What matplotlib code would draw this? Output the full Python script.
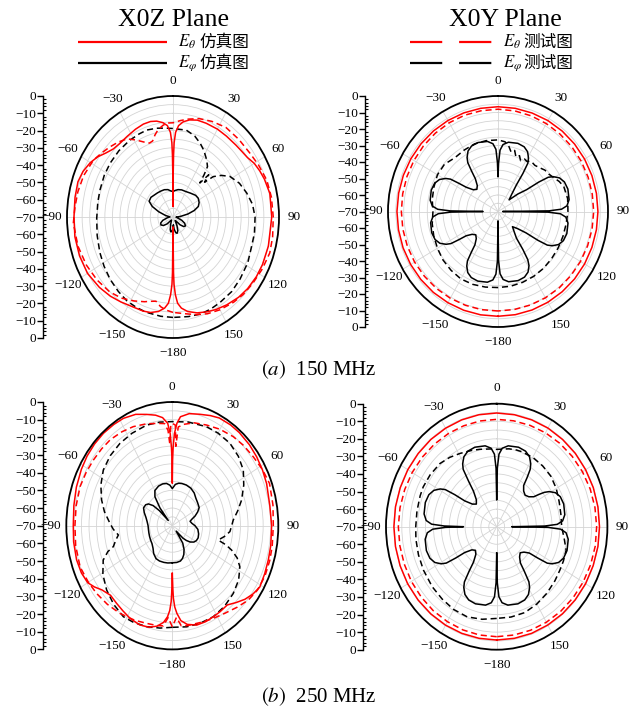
import numpy as np
import matplotlib
matplotlib.use("Agg")
import matplotlib.pyplot as plt
from matplotlib.ticker import MultipleLocator, FixedLocator

plt.rcParams['font.family'] = ['Liberation Serif', 'Noto Sans CJK SC']
plt.rcParams['mathtext.fontset'] = 'stix'

RED = '#ff0000'
W, H = 629, 714

# common angle grid for the near-circular traces (deg)
ang10 = np.arange(-180, 181, 10)
# sample offsets inside one 45 deg petal sector of the X0Y cross-pol pattern:
# sectors alternate between starting at a narrow null (0, 90, ...) and at a wide one (45, 135, ...)
off_narrow = np.array([0, 0.7, 2, 4.5, 9, 17, 23, 27.5, 31, 33, 34.5, 36, 40])
off_wide = np.array([0, 5, 9, 10.5, 12, 14, 17.5, 22, 28, 36, 40.5, 43, 44.3])
flower_ang = np.concatenate([n + (off_narrow if k % 2 == 0 else off_wide)
                             for k, n in enumerate(range(-180, 180, 45))] + [[180]])

# ---------------- X0Z plane, 150 MHz ----------------
xoz150_th_sim_ang = [-180, -179.4, -179, -178, -176.5, -174, -170, -165, -160, -152,
                     -145, -138, -130, -120, -110, -100, -90, -80, -72, -66,
                     -60, -55, -50, -45, -40, -33, -26, -20, -15, -11,
                     -7, -4, -2, -1, -0.6, -0.3, 0, 0.3, 0.6, 1,
                     2, 4, 7, 11, 16, 22, 30, 37, 45, 50,
                     55, 60, 65, 70, 78, 90, 105, 115, 122, 130,
                     137, 145, 152, 158, 164, 170, 174, 176.5, 178, 179,
                     179.4, 180]
xoz150_th_sim = [-64, -38, -31, -25, -20, -17, -14.5, -12.8, -12.1, -11.5,
                 -10, -8.3, -6.6, -4.8, -4.3, -4.2, -4.6, -4.3, -4, -5,
                 -7, -9.3, -12.3, -14.3, -14.8, -14.4, -13.5, -12.8, -12.8, -13.5,
                 -15, -17, -21, -27, -34, -45, -64, -45, -34, -27,
                 -21, -17, -14.5, -12.8, -11.7, -11.5, -11.3, -11.4, -11.2, -10.8,
                 -10, -8, -6.8, -5.8, -4.6, -4.8, -4.8, -4.8, -5, -5.6,
                 -6.5, -8, -9.4, -10.8, -12.3, -14.5, -17, -20, -25, -31,
                 -38, -64]

xoz150_th_meas_ang = [-180, -175, -171, -167, -163, -159, -152, -144, -136, -126,
                      -116, -105, -93, -85, -77, -68, -58, -52, -46, -40,
                      -34, -29, -24, -20, -17, -14, -11, -7, -4, 0,
                      5, 10, 17, 25, 34, 44, 54, 62, 71, 80,
                      90, 100, 108, 117, 126, 134, 141, 150, 158, 165,
                      172, 180]
xoz150_th_meas = [-14.8, -16, -17.5, -20, -19, -17.5, -15, -12, -9.8, -8,
                  -6.4, -5, -4.1, -5, -5.5, -6.3, -8, -10, -11.8, -13.5,
                  -15.5, -19, -22.5, -24.5, -24, -21, -18.5, -16.5, -15.5, -15.5,
                  -14, -12.5, -10.5, -9, -7.5, -7.5, -7.2, -6, -4.5, -4,
                  -3.8, -3.2, -2.8, -3.8, -4.8, -5.5, -6.5, -8, -9.6, -11.5,
                  -13.5, -14.8]

xoz150_ph_sim_ang = [-180, -177, -174, -170, -166, -160, -152, -144, -136, -128,
                     -120, -113, -106, -98, -88, -80, -72, -66, -60, -52,
                     -44, -36, -28, -20, -12, -6, 0, 5, 12, 20,
                     30, 40, 50, 57, 64, 70, 75, 80, 86, 92,
                     100, 108, 115, 122, 128, 134, 140, 146, 152, 158,
                     164, 169, 174, 177, 180]
xoz150_ph_sim = [-64, -62.5, -61.5, -61.3, -62.5, -65.5, -68, -67.5, -64.5, -62,
                 -60.8, -61.2, -63, -66, -68, -65, -60, -55, -51.8, -51.5,
                 -52.3, -52.7, -53, -53.2, -53.8, -54.8, -55.3, -54.6, -53.8, -53.3,
                 -53, -52, -50.5, -50.1, -50.8, -52.2, -55.5, -60, -65, -68,
                 -67, -64, -61.5, -60.3, -61, -63.5, -67, -67.5, -64.5, -61.5,
                 -60.2, -60.8, -63, -65.5, -64]

xoz150_ph_meas_ang = [-180, -172, -162, -155, -148, -140, -131, -122, -113, -102,
                      -91, -80, -72, -62, -53, -43, -33, -25, -19, -12,
                      -6, 0, 10, 17, 23, 28, 34, 38, 40, 42,
                      44, 46, 48.7, 53, 58, 66, 74, 82, 90, 100,
                      108, 118, 129, 138, 148, 155, 162, 170, 180]
xoz150_ph_meas = [-11.9, -12, -12.1, -12.4, -12.7, -13.8, -15, -16.3, -17.5, -18.8,
                  -19.6, -19.6, -19.3, -18.6, -18.1, -17.6, -17.2, -17, -16.8, -17.5,
                  -18.3, -18.8, -19, -21, -23.8, -26.5, -30.2, -33, -38, -43.5,
                  -36, -41, -34.6, -30, -25.7, -22, -19.4, -17, -15.8, -15.4,
                  -15.4, -14, -13, -12, -11.6, -11.2, -11, -11.5, -11.9]

# ---------------- X0Y plane, 150 MHz ----------------
xoy150_th_sim = [-6.5, -6.4, -6.3, -6.2, -6.0, -5.9, -5.8, -5.7, -5.7, -5.7,
                 -5.8, -5.9, -6.0, -6.1, -6.2, -6.3, -6.4, -6.5, -6.5, -6.5,
                 -6.5, -6.4, -6.4, -6.4, -6.4, -6.4, -6.4, -6.4, -6.4, -6.4,
                 -6.4, -6.4, -6.5, -6.5, -6.5, -6.5, -6.5]
xoy150_th_meas = [-9.7, -9.6, -9.5, -9.3, -9.1, -8.9, -8.7, -8.6, -8.5, -8.5,
                  -8.4, -8.3, -8.2, -8.1, -8.0, -7.9, -7.9, -8.0, -8.0, -8.1,
                  -8.3, -8.5, -8.7, -8.8, -8.9, -9.0, -9.1, -9.1, -9.2, -9.3,
                  -9.4, -9.5, -9.5, -9.6, -9.7, -9.7, -9.7]
xoy150_ph_sim = [-64, -40, -32, -28.4, -26.6, -25.9, -26.5, -28.3, -31.4, -34.3, -40, -45, -48.5,
                 -50, -48.5, -45, -40, -34.3, -31.4, -28.3, -26.5, -25.9, -26.6, -28.4, -32, -40,
                 -60.5, -39.6, -31.6, -28.1, -26.3, -25.6, -26.2, -28, -31.1, -34, -40, -45, -49.5,
                 -51, -49.5, -45.5, -40.5, -34.7, -31.8, -28.7, -26.9, -26.3, -27, -28.8, -32.3, -40.3,
                 -49, -40.8, -32.8, -29.3, -27.5, -26.8, -27.4, -29.2, -32.3, -35.2, -42, -50, -56.5,
                 -60, -53.5, -47.5, -38.5, -31.9, -29, -25.9, -24.1, -23.5, -24.2, -26, -29.5, -37.5,
                 -67, -38.2, -30.2, -26.7, -24.9, -24.2, -24.8, -26.6, -29.7, -32.6, -39.2, -48, -54,
                 -57, -54, -50, -42, -35.2, -31.7, -28.6, -26.8, -26.2, -26.9, -28.7, -32.2, -40.2,
                 -64]
xoy150_ph_meas_ang = [-180, -170, -160, -150, -140, -130, -120, -110, -100, -90,
                      -80, -70, -60, -50, -40, -30, -20, -10, 0, 6,
                      10, 13, 16, 19, 22, 25, 28, 31, 35, 40,
                      45, 50, 55, 60, 65, 70, 80, 90, 100, 110,
                      120, 130, 140, 150, 160, 170, 180]
xoy150_ph_meas = [-23.9, -23.5, -23, -22.8, -23.5, -24.3, -25.5, -26.5, -27.5, -28.6,
                  -27.5, -26.6, -25.5, -25.5, -27.4, -27, -26.4, -26.4, -26.6, -27.5,
                  -30, -33, -31.5, -35, -33.5, -36, -34, -34.5, -33, -33.5,
                  -32.5, -31, -30.5, -29, -27, -25.5, -25, -25.5, -26, -26,
                  -25.8, -25.5, -25, -24.6, -24.3, -24, -23.9]

# ---------------- X0Z plane, 250 MHz ----------------
xoz250_th_sim_ang = [-180, -179.4, -179, -178, -176.5, -174, -170, -165, -159, -152,
                     -146, -140, -134, -128, -124, -120, -114, -107, -98, -90,
                     -80, -71, -62, -55, -48, -41, -34, -28, -21, -15,
                     -10, -6, -3, -1.5, -0.7, -0.3, 0, 0.3, 0.7, 1.5,
                     3, 5, 10, 16, 22, 27, 34, 40, 48, 55,
                     62, 69, 80, 90, 100, 107, 114, 121, 126, 131,
                     136, 141, 147, 152, 158, 164, 170, 174, 176.5, 178,
                     179, 179.4, 180]
xoz250_th_sim = [-43, -32, -27, -22, -18.4, -15, -12.3, -10.5, -9.9, -10.6,
                 -11.8, -12.7, -13.3, -11, -8, -5.5, -4.3, -3.9, -4.2, -4.6,
                 -4, -3, -2, -1.3, -0.9, -0.7, -0.9, -1.2, -2.5, -4.8,
                 -6.5, -8.5, -12, -18, -26, -33, -46, -33, -26, -18,
                 -12, -8.1, -5.6, -4.4, -2.8, -1.6, -1.2, -1.2, -1.5, -2,
                 -2.6, -3.3, -4.6, -4.4, -4, -3.7, -3.2, -2.6, -4.2, -6.5,
                 -9.5, -12.3, -12, -11.8, -11.4, -11.5, -13.3, -16, -20.3, -24,
                 -29, -34, -43]

xoz250_th_meas_ang = [-180, -177, -174, -170, -163, -155, -145, -136, -127.5, -120,
                      -111, -100, -90, -80, -70, -62, -54.5, -47, -40, -32,
                      -24.7, -17, -10, -5, -3, -2, -1, 0, 2, 3,
                      4, 8, 14, 21.7, 30, 38.6, 46, 54, 62, 69.6,
                      80, 90, 100, 107, 115, 123, 130, 137, 145, 153,
                      160, 170, 174, 177, 180]
xoz250_th_meas = [-12.8, -18, -13, -12.6, -12.2, -11, -9.5, -8.2, -7, -6,
                  -4.8, -5.2, -5.7, -5.5, -5.2, -5.6, -6, -6.2, -6.4, -7.3,
                  -8.3, -9.8, -11.2, -12, -16, -24, -13, -12.1, -13, -25,
                  -14, -12, -10, -8.7, -7, -5.5, -4.6, -3.8, -2.5, -1.5,
                  -2.5, -3.3, -3, -2.7, -2.5, -3, -4.5, -7, -9.5, -11,
                  -12, -12.6, -13, -18, -12.8]

xoz250_ph_sim_ang = [-180, -172, -165, -157, -150, -142, -135, -127, -120, -112,
                     -105, -97, -90, -82, -75, -68, -62, -56, -52, -48,
                     -45, -42, -39, -35, -30, -22, -15, -9, -4, 0,
                     5, 10, 15, 22, 30, 38, 45, 52, 60, 65,
                     70, 74, 78, 84, 90, 97, 105, 112, 118, 123,
                     128, 132, 135, 140, 145, 150, 155, 160, 165, 172,
                     180]
xoz250_ph_sim = [-49, -48.7, -48.5, -48.3, -48.5, -50, -52, -53.2, -53.5, -53.8,
                 -54, -54.1, -54, -53.2, -52, -50, -48.5, -48.8, -50, -53,
                 -58, -66, -57, -50, -47, -45.8, -45.5, -45.8, -47, -49,
                 -46.5, -45.6, -45.3, -45.2, -45.5, -46.5, -48, -48.8, -49.5, -51.5,
                 -54, -56.5, -58, -57, -55, -53, -52, -51.6, -52, -53,
                 -55, -57.5, -60, -66, -58, -54.5, -52, -50.3, -49.3, -49,
                 -49]

xoz250_ph_meas_ang = [-180, -172, -163.5, -155, -147.9, -139, -130, -121, -113.1, -109,
                      -106.9, -102, -98.4, -93, -88.1, -80, -72.7, -64, -55.3, -46,
                      -36.6, -27, -16.6, -8, 0, 10, 22, 30, 39.2, 48,
                      56.1, 64, 72.4, 79, 85.4, 90, 95, 100, 105, 107,
                      109.4, 113, 117.5, 125, 133.6, 143, 152.3, 162, 170.6, 180]
xoz250_ph_meas = [-12.5, -11.5, -10.4, -9.6, -9.2, -11, -13.4, -16.5, -20.4, -25,
                  -29.3, -32, -34, -31, -28.8, -24.5, -21.1, -17.5, -14.6, -13,
                  -12, -11.3, -10.6, -10.8, -11.1, -10.4, -9.6, -9.5, -9.8, -11.3,
                  -13.5, -17.5, -22, -26, -29.6, -30.8, -31.8, -35, -38.6, -33,
                  -28.5, -23.5, -19.7, -16.5, -14.4, -12.8, -11.8, -11.8, -12, -12.5]

# ---------------- X0Y plane, 250 MHz ----------------
xoy250_th_sim = [-5.5, -5.5, -5.4, -5.3, -5.2, -5.1, -5.0, -5.0, -5.0, -5.0,
                 -5.0, -5.1, -5.1, -5.2, -5.2, -5.3, -5.3, -5.3, -5.3, -5.3,
                 -5.3, -5.2, -5.2, -5.1, -5.1, -5.0, -5.0, -5.0, -5.0, -5.1,
                 -5.1, -5.2, -5.3, -5.4, -5.4, -5.5, -5.5]
xoy250_th_meas = [-7.4, -7.4, -7.5, -7.6, -7.6, -7.7, -7.7, -7.8, -7.8, -7.8,
                  -7.9, -8.1, -8.3, -8.5, -8.7, -8.8, -8.9, -8.9, -8.9, -8.8,
                  -8.6, -8.3, -8.0, -7.7, -7.4, -7.1, -6.9, -6.8, -6.7, -6.8,
                  -6.9, -7.0, -7.1, -7.2, -7.3, -7.4, -7.4]
xoy250_ph_sim = [-55, -38.1, -30.1, -26.6, -24.8, -24.1, -24.7, -26.5, -29.6, -32.5, -39, -45, -49.5,
                 -51, -49.5, -45, -38.5, -32, -29, -25.9, -24.1, -23.5, -24.2, -26, -29.5, -37.5,
                 -49, -36.8, -28.8, -25.3, -23.5, -22.8, -23.4, -25.2, -28.3, -31.2, -37.8, -45, -50,
                 -51.8, -50, -45, -38.7, -31.1, -28.2, -25.1, -23.3, -22.7, -23.4, -25.2, -28.7, -36.7,
                 -54.8, -36.7, -28.7, -25.2, -23.4, -22.7, -23.3, -25.1, -28.2, -31.1, -36, -41, -43.5,
                 -44.6, -43.5, -41, -37.5, -34.1, -31.2, -28.1, -26.3, -25.7, -26.4, -28.2, -31.7, -39.7,
                 -60.5, -37.5, -29.5, -26, -24.2, -23.5, -24.1, -25.9, -29, -31.9, -38.5, -44.5, -47.5,
                 -49, -47.5, -44.5, -39, -32.6, -29.6, -26.5, -24.7, -24.1, -24.8, -26.6, -30.1, -38.1,
                 -55]
xoy250_ph_meas_ang = [-180, -170, -160, -150, -140, -130, -118, -108, -98, -90,
                      -80, -70, -64, -55, -45, -37, -29, -20, -13.5, -5,
                      0, 10, 16, 20, 30, 40, 50, 60, 70, 80,
                      90, 100, 107, 115, 122, 130, 140, 150, 160, 170,
                      180]
xoy250_ph_meas = [-17.8, -16.5, -15.4, -15.6, -16.3, -16.8, -17.5, -18, -18.4, -18.8,
                  -18.8, -18.5, -18.3, -18.6, -19.2, -20.6, -22.3, -23.8, -24.7, -25.6,
                  -26, -25, -24.6, -24.5, -24.4, -24.8, -25.3, -26.5, -28, -28.8,
                  -28.9, -26.5, -24.1, -23.5, -23, -22, -20.6, -19.2, -18, -17.8,
                  -17.8]

theta_labels = ['0', '30', '60', '90', '120', '150', '\u2212180',
                '\u2212150', '\u2212120', '\u221290', '\u221260', '\u221230']


def px_rect(cx, cy, hr, vr):
    return [(cx - hr) / W, 1 - (cy + vr) / H, 2 * hr / W, 2 * vr / H]


def polar_panel(rect):
    ax = fig.add_axes(rect, projection='polar')
    ax.set_aspect('auto')
    ax.set_theta_zero_location('N')
    ax.set_theta_direction(-1)
    ax.set_ylim(-70, 0)
    ax.set_thetagrids(np.arange(0, 360, 30), labels=theta_labels, fontsize=9.5)
    ax.xaxis.set_minor_locator(FixedLocator(np.deg2rad(np.arange(15, 360, 30))))
    ax.tick_params(axis='x', which='both', direction='in', length=5, width=0.9, pad=4)
    ax.set_yticks(np.arange(-65, 0, 5))
    ax.set_yticklabels([])
    ax.tick_params(axis='y', length=0)
    ax.grid(True, color='#d4d4d4', lw=0.6)
    ax.spines['polar'].set_linewidth(1.3)
    return ax


def db_scale(x, rect):
    sx = fig.add_axes([x / W, rect[1], 0.0001, rect[3]])
    sx.set_ylim(-70, 70)
    for s in ['top', 'right', 'bottom']:
        sx.spines[s].set_visible(False)
    sx.spines['left'].set_linewidth(1.0)
    sx.set_xticks([])
    ticks = np.arange(-70, 71, 10)
    sx.set_yticks(ticks)
    sx.set_yticklabels(['0' if abs(v) == 70 else '\u2212%d' % (70 - abs(v)) for v in ticks])
    sx.yaxis.set_minor_locator(MultipleLocator(2))
    sx.tick_params(axis='y', which='major', direction='out', length=4, width=1,
                   labelsize=9.5, pad=1)
    sx.tick_params(axis='y', which='minor', direction='in', length=2.5, width=0.8)
    return sx


def draw(ax, th_sim_ang, th_sim, th_meas_ang, th_meas, ph_sim_ang, ph_sim,
         ph_meas_ang, ph_meas):
    ax.plot(np.deg2rad(ph_meas_ang), ph_meas, color='black', lw=1.1, ls=(0, (4, 2.5)))
    ax.plot(np.deg2rad(ph_sim_ang), ph_sim, color='black', lw=1.1)
    ax.plot(np.deg2rad(th_meas_ang), th_meas, color=RED, lw=1.1, ls=(0, (4, 2.5)))
    ax.plot(np.deg2rad(th_sim_ang), th_sim, color=RED, lw=1.1)


fig = plt.figure(figsize=(W / 100, H / 100), dpi=100)

r_tl = px_rect(173, 217, 106, 121)
r_tr = px_rect(498, 211.5, 110, 115.5)
r_bl = px_rect(172.3, 525.7, 106, 123.7)
r_br = px_rect(496.7, 526.7, 110.7, 123)

ax1 = polar_panel(r_tl)
draw(ax1, xoz150_th_sim_ang, xoz150_th_sim, xoz150_th_meas_ang, xoz150_th_meas,
     xoz150_ph_sim_ang, xoz150_ph_sim, xoz150_ph_meas_ang, xoz150_ph_meas)
db_scale(43, r_tl)

ax2 = polar_panel(r_tr)
draw(ax2, ang10, xoy150_th_sim, ang10, xoy150_th_meas,
     flower_ang, xoy150_ph_sim, xoy150_ph_meas_ang, xoy150_ph_meas)
db_scale(365, r_tr)

ax3 = polar_panel(r_bl)
draw(ax3, xoz250_th_sim_ang, xoz250_th_sim, xoz250_th_meas_ang, xoz250_th_meas,
     xoz250_ph_sim_ang, xoz250_ph_sim, xoz250_ph_meas_ang, xoz250_ph_meas)
db_scale(43, r_bl)

ax4 = polar_panel(r_br)
draw(ax4, ang10, xoy250_th_sim, ang10, xoy250_th_meas,
     flower_ang, xoy250_ph_sim, xoy250_ph_meas_ang, xoy250_ph_meas)
db_scale(363, r_br)

# headings, legend keys and captions in pixel coordinates
ov = fig.add_axes([0, 0, 1, 1])
ov.set_xlim(0, W)
ov.set_ylim(H, 0)
ov.axis('off')

ov.text(173, 20, 'X0Z Plane', fontsize=18.5, ha='center', va='center')
ov.text(505, 20, 'X0Y Plane', fontsize=18.5, ha='center', va='center')

for y, c, sym in [(42, RED, r'$E_\theta$'), (63, 'black', r'$E_\varphi$')]:
    ov.plot([78, 167], [y, y], color=c, lw=1.6, solid_capstyle='butt')
    ov.text(178, y, sym, fontsize=12, ha='left', va='center')
    ov.text(199, y, '仿真图', fontsize=12, ha='left', va='center',
            family='Noto Sans CJK SC')
    ov.plot([410, 493], [y, y], color=c, lw=1.6, ls=(0, (14.5, 7.6)),
            solid_capstyle='butt', dash_capstyle='butt')
    ov.text(503, y, sym, fontsize=12, ha='left', va='center')
    ov.text(523, y, '测试图', fontsize=12, ha='left', va='center',
            family='Noto Sans CJK SC')

ov.text(319, 370, r'$(a)$  150 MHz', fontsize=15, ha='center', va='center')
ov.text(319, 697, r'$(b)$  250 MHz', fontsize=15, ha='center', va='center')

fig.savefig('out.png', dpi=100)
